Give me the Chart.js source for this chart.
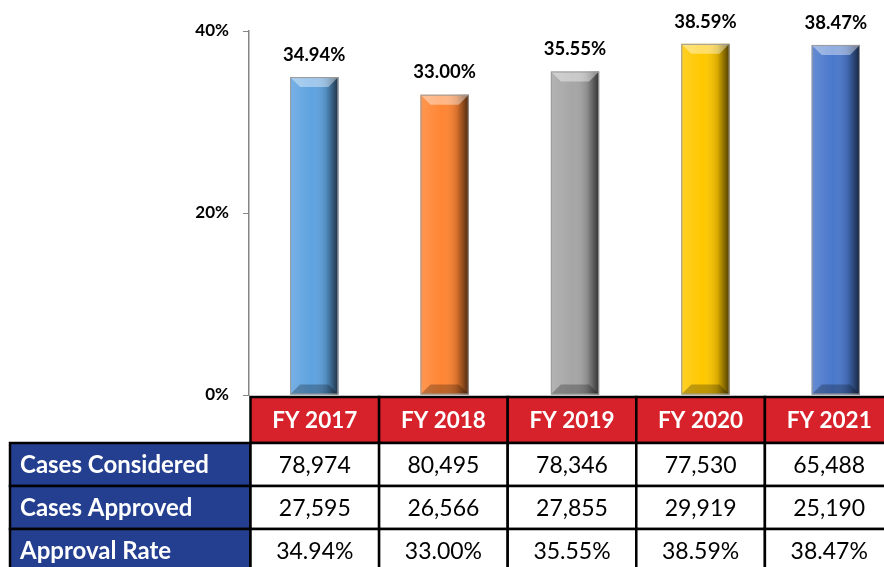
<!DOCTYPE html>
<html>
<head>
<meta charset="utf-8">
<script src="https://cdn.jsdelivr.net/npm/chart.js@4"></script>
<style>
  html, body { margin: 0; padding: 0; background: #fff; overflow: hidden; }
  /* the original table runs past the right edge, so the canvas is a bit wider than the window */
  #wrap { width: 901px; height: 567px; position: relative; }
</style>
</head>
<body>
<div id="wrap"><canvas id="rateChart"></canvas></div>
<script>
const categories = ['FY 2017', 'FY 2018', 'FY 2019', 'FY 2020', 'FY 2021'];
const approvalRate = [34.94, 33.00, 35.55, 38.59, 38.47];
const casesConsidered = [78974, 80495, 78346, 77530, 65488];
const casesApproved = [27595, 26566, 27855, 29919, 25190];
const rowLabels = ['Cases Considered', 'Cases Approved', 'Approval Rate'];
const yTicks = [0, 20, 40];
const barColors = ['#5fa3e0', '#ff8533', '#a6a6a6', '#ffc800', '#4a78cc'];

const FONT = 'Lato, "Open Sans", sans-serif';

// shading so the bars look bevelled like the original
const bevelPlugin = {
    id: 'bevel',
    afterDatasetsDraw(chart) {
        const ctx = chart.ctx;
        chart.getDatasetMeta(0).data.forEach(function (bar) {
            const p = bar.getProps(['x', 'y', 'base', 'width'], true);
            const l = p.x - p.width / 2, r = p.x + p.width / 2;
            const t = p.y, b = p.base;
            const bv = 10;
            ctx.save();
            const g = ctx.createLinearGradient(l, 0, r, 0);
            g.addColorStop(0, 'rgba(255,255,255,0.15)');
            g.addColorStop(0.45, 'rgba(255,255,255,0.0)');
            g.addColorStop(0.75, 'rgba(0,0,0,0.15)');
            g.addColorStop(1, 'rgba(0,0,0,0.7)');
            ctx.fillStyle = g;
            ctx.fillRect(l, t, r - l, b - t);
            // top bevel
            ctx.beginPath();
            ctx.moveTo(l, t); ctx.lineTo(r, t); ctx.lineTo(r - bv, t + bv); ctx.lineTo(l + bv, t + bv); ctx.closePath();
            ctx.fillStyle = 'rgba(255,255,255,0.4)';
            ctx.fill();
            // bottom bevel
            ctx.beginPath();
            ctx.moveTo(l, b); ctx.lineTo(r, b); ctx.lineTo(r - bv, b - bv); ctx.lineTo(l + bv, b - bv); ctx.closePath();
            ctx.fillStyle = 'rgba(0,0,0,0.25)';
            ctx.fill();
            ctx.strokeStyle = '#9a9a9a';
            ctx.lineWidth = 1;
            ctx.strokeRect(l + 0.5, t + 0.5, r - l - 1, b - t - 1);
            ctx.restore();

            // value label above the bar
            ctx.save();
            ctx.fillStyle = '#000';
            ctx.font = 'bold 18.5px ' + FONT;
            ctx.textAlign = 'center';
            ctx.textBaseline = 'bottom';
            ctx.fillText(approvalRate[bar.$context.dataIndex].toFixed(2) + '%', p.x, t - 13);
            ctx.restore();
        });
    }
};

// the data table under the plot (its columns are a little narrower than the bar slots)
const tablePlugin = {
    id: 'dataTable',
    afterDraw(chart) {
        const ctx = chart.ctx;
        const x = chart.scales.x;
        const tableLeft = x.left + 1.5;
        const colW = 128.6;
        const rowTops = [397, 443, 486, 529];
        const rowBottoms = [443, 486, 529, 572];
        const rows = [
            casesConsidered.map(v => v.toLocaleString('en-US')),
            casesApproved.map(v => v.toLocaleString('en-US')),
            approvalRate.map(v => v.toFixed(2) + '%')
        ];
        ctx.save();
        ctx.lineWidth = 2.5;
        ctx.strokeStyle = '#000';
        // header
        categories.forEach(function (c, i) {
            const l = tableLeft + i * colW, cx = l + colW / 2;
            ctx.fillStyle = '#d7222b';
            ctx.fillRect(l, rowTops[0], colW, rowBottoms[0] - rowTops[0]);
            ctx.strokeRect(l, rowTops[0], colW, rowBottoms[0] - rowTops[0]);
            ctx.fillStyle = '#fff';
            ctx.font = 'bold 22.5px ' + FONT;
            ctx.textAlign = 'center';
            ctx.textBaseline = 'middle';
            ctx.fillText(c, cx, (rowTops[0] + rowBottoms[0]) / 2 + 1);
        });
        // body rows
        rows.forEach(function (vals, r) {
            const top = rowTops[r + 1], h = rowBottoms[r + 1] - top;
            ctx.fillStyle = '#243f8f';
            ctx.fillRect(10, top, tableLeft - 10, h);
            ctx.strokeRect(10, top, tableLeft - 10, h);
            ctx.fillStyle = '#fff';
            ctx.font = 'bold 24px ' + FONT;
            ctx.textAlign = 'left';
            ctx.textBaseline = 'middle';
            ctx.fillText(rowLabels[r], 20, top + h / 2 + 1);
            vals.forEach(function (v, i) {
                const l = tableLeft + i * colW, cx = l + colW / 2;
                ctx.fillStyle = '#fff';
                ctx.fillRect(l, top, colW, h);
                ctx.strokeRect(l, top, colW, h);
                ctx.fillStyle = '#000';
                ctx.font = '23px ' + FONT;
                ctx.textAlign = 'center';
                ctx.fillText(v, cx, top + h / 2 + 1);
            });
        });
        ctx.restore();
    }
};

const ctx = document.getElementById('rateChart').getContext('2d');
const rateChart = new Chart(ctx, {
    type: 'bar',
    data: {
        labels: categories,
        datasets: [{
            label: 'Approval Rate',
            data: approvalRate,
            backgroundColor: barColors,
            borderWidth: 0,
            barPercentage: 0.37,
            categoryPercentage: 1.0
        }]
    },
    options: {
        responsive: true,
        maintainAspectRatio: false,
        animation: false,
        layout: { padding: { top: 31, right: 0, bottom: 172, left: 0 } },
        plugins: {
            legend: { display: false },
            tooltip: { enabled: false }
        },
        scales: {
            x: {
                display: false
            },
            y: {
                min: 0,
                max: 40,
                afterBuildTicks(scale) {
                    scale.ticks = yTicks.map(v => ({ value: v }));
                },
                afterFit(scale) { scale.width = 249; },
                border: { display: true, color: '#868686', width: 1.5 },
                grid: { drawOnChartArea: false, drawTicks: true, tickLength: 6, color: '#868686' },
                ticks: {
                    padding: 14,
                    color: '#000',
                    font: { family: FONT, size: 17, weight: 'bold' },
                    callback: v => v + '%'
                }
            }
        }
    },
    plugins: [bevelPlugin, tablePlugin]
});
</script>
</body>
</html>
